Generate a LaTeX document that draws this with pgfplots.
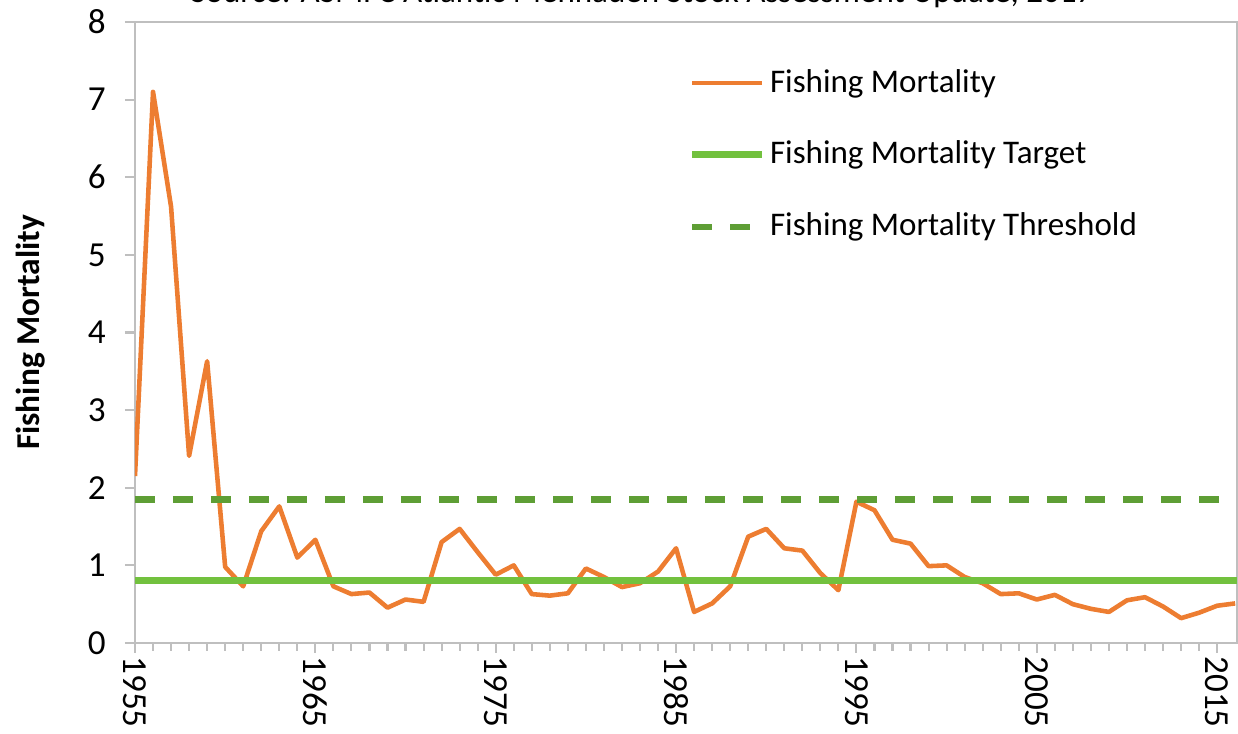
\documentclass[border=0pt]{standalone}
\usepackage{pgfplots}
\pgfplotsset{compat=1.18}
\usepackage{fontspec}
\setmainfont{Carlito}
\definecolor{fmorange}{HTML}{ED7D31}
\definecolor{fmtarget}{HTML}{72C13E}
\definecolor{fmthresh}{HTML}{5E9E35}
\definecolor{axgray}{HTML}{BFBFBF}
\pgfplotstableread{
year F
1955 2.15
1956 7.10
1957 5.62
1958 2.41
1959 3.63
1960 0.98
1961 0.73
1962 1.44
1963 1.76
1964 1.10
1965 1.33
1966 0.73
1967 0.63
1968 0.65
1969 0.455
1970 0.56
1971 0.53
1972 1.30
1973 1.47
1974 1.17
1975 0.88
1976 1.00
1977 0.63
1978 0.61
1979 0.64
1980 0.96
1981 0.85
1982 0.72
1983 0.77
1984 0.92
1985 1.22
1986 0.40
1987 0.51
1988 0.73
1989 1.37
1990 1.47
1991 1.22
1992 1.19
1993 0.90
1994 0.68
1995 1.82
1996 1.71
1997 1.33
1998 1.28
1999 0.99
2000 1.00
2001 0.85
2002 0.77
2003 0.63
2004 0.64
2005 0.56
2006 0.62
2007 0.50
2008 0.44
2009 0.40
2010 0.55
2011 0.59
2012 0.47
2013 0.32
2014 0.39
2015 0.48
2016 0.51
}\fmdata
\begin{document}
\begin{tikzpicture}
\begin{axis}[
  at={(0,0)}, anchor=south west,
  scale only axis, width=110.2mm, height=62.1mm,
  xmin=1955, xmax=2016.1, ymin=0, ymax=8,
  axis line style={axgray, line width=0.8pt},
  xtick={1955,1965,...,2015},
  minor x tick num=9,
  ytick={0,1,...,8},
  tick align=outside,
  major tick length=1mm, minor tick length=0.8mm,
  tick style={axgray, line width=0.6pt},
  xtick pos=bottom, ytick pos=left,
  /pgf/number format/assume math mode=true,
  /pgf/number format/1000 sep={},
  ticklabel style={font=\fontsize{10}{12}\selectfont, text=black},
  xticklabel style={rotate=-90, anchor=west, xshift=-0.9mm},
  yticklabel style={xshift=-0.7mm},
  ylabel={\bfseries Fishing Mortality},
  ylabel style={font=\fontsize{9.5}{11}\selectfont, yshift=1.8mm},
  legend style={draw=none, fill=none, at={(rel axis cs:0.4925,0.948)}, anchor=north west,
    font=\fontsize{9.4}{11}\selectfont, row sep=2.95mm, cells={anchor=west}},
  legend image code/.code={\draw[#1] (0mm,0mm) -- (7mm,0mm);},
]
\addplot[fmorange, line width=1.3pt, line join=round] table[x=year, y=F] {\fmdata};
\addlegendentry{\hspace{-0.3mm}Fishing Mortality}
\addplot[fmtarget, line width=2pt] coordinates {(1955,0.8) (2016.1,0.8)};
\addlegendentry{\hspace{-0.3mm}Fishing Mortality Target}
\addplot[fmthresh, line width=1.8pt, dash pattern=on 2mm off 1.8mm] coordinates {(1955,1.85) (2016.1,1.85)};
\addlegendentry{\hspace{-0.3mm}Fishing Mortality Threshold}
\end{axis}
\node[anchor=base, font=\fontsize{9.4}{11}\selectfont] at (50.7mm,64.0mm) {Source: ASMFC Atlantic Menhaden Stock Assessment Update, 2017};
\pgfresetboundingbox
\path[use as bounding box] (-13.5mm,-9.1mm) rectangle (110.3mm,64.3mm);
\end{tikzpicture}
\end{document}
